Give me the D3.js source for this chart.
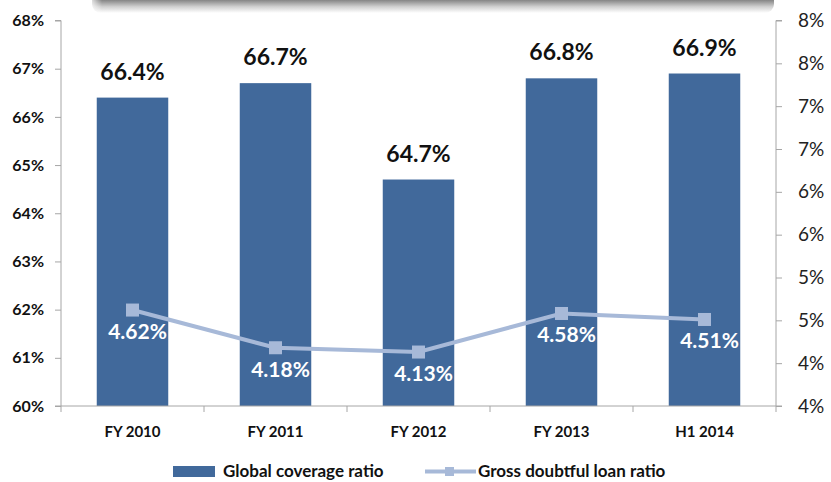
<!DOCTYPE html>
<html>
<head>
<meta charset="utf-8">
<script src="https://cdn.jsdelivr.net/npm/d3@7"></script>
<style>
  html, body { margin: 0; padding: 0; background: #fff; }
  svg { display: block; }
</style>
</head>
<body>
<svg id="chart" width="831" height="482"></svg>
<script>
// Periods on the category axis
const periods = ["FY 2010", "FY 2011", "FY 2012", "FY 2013", "H1 2014"];
// Global coverage ratio (%), bars on the left axis
const coverage = [66.4, 66.7, 64.7, 66.8, 66.9];
// Gross doubtful loan ratio (%), line on the right axis
const doubtful = [4.62, 4.18, 4.13, 4.58, 4.51];
// Axis tick values (%)
const leftTicks = [60, 61, 62, 63, 64, 65, 66, 67, 68];
const rightTicks = [3.5, 4, 4.5, 5, 5.5, 6, 6.5, 7, 7.5, 8];

const svg = d3.select("#chart");
const x0 = 61, x1 = 776, yTop = 20.5, yBot = 406;
const font = "Lato, 'Open Sans', sans-serif";
const barColor = "#41699b";
const lineColor = "#a7b9d8";
const axisColor = "#a6a6a6";

// Shaded header edge at the top
const defs = svg.append("defs");
const grad = defs.append("linearGradient").attr("id", "hdr")
  .attr("x1", 0).attr("y1", 0).attr("x2", 0).attr("y2", 1);
grad.append("stop").attr("offset", "0%").attr("stop-color", "#707070");
grad.append("stop").attr("offset", "48%").attr("stop-color", "#858585");
grad.append("stop").attr("offset", "75%").attr("stop-color", "#d0d0d0");
grad.append("stop").attr("offset", "100%").attr("stop-color", "#ffffff");
const hgrad = defs.append("linearGradient").attr("id", "hdrL")
  .attr("x1", 0).attr("y1", 0).attr("x2", 1).attr("y2", 0);
hgrad.append("stop").attr("offset", "0%").attr("stop-color", "#fff").attr("stop-opacity", 1);
hgrad.append("stop").attr("offset", "100%").attr("stop-color", "#fff").attr("stop-opacity", 0);
svg.append("rect").attr("x", 92).attr("y", -12).attr("width", 682).attr("height", 25)
  .attr("rx", 9).attr("fill", "url(#hdr)");
svg.append("rect").attr("x", 88).attr("y", -12).attr("width", 14).attr("height", 25)
  .attr("fill", "url(#hdrL)");

// Scales
const x = d3.scaleBand().domain(periods).range([x0, x1]).paddingInner(0.5).paddingOuter(0.25);
const xs = d3.scaleBand().domain(periods).range([x0, x1]);
const yL = d3.scaleLinear().domain([60, 68]).range([yBot, yTop]);
const yR = d3.scaleLinear().domain([3.5, 8]).range([yBot, yTop]);

// Bars
svg.append("g").selectAll("rect").data(periods).join("rect")
  .attr("x", d => x(d))
  .attr("width", x.bandwidth())
  .attr("y", (d, i) => yL(coverage[i]))
  .attr("height", (d, i) => yBot - yL(coverage[i]))
  .attr("fill", barColor);

// Bar value labels
svg.append("g").selectAll("text").data(periods).join("text")
  .attr("x", d => x(d) + x.bandwidth() / 2)
  .attr("y", (d, i) => yL(coverage[i]) - 18)
  .attr("text-anchor", "middle")
  .attr("font-family", font).attr("font-weight", 700).attr("font-size", 23)
  .attr("fill", "#111")
  .text((d, i) => coverage[i].toFixed(1) + "%");

// Left axis
const axL = svg.append("g").attr("transform", `translate(${x0},0)`)
  .call(d3.axisLeft(yL).tickValues(leftTicks).tickSize(6).tickPadding(11)
    .tickFormat(d => d + "%"));
axL.select(".domain").attr("stroke", axisColor).attr("d", `M-6,${yTop}H0V${yBot}H-6`);
axL.selectAll(".tick line").attr("stroke", axisColor);
axL.selectAll("text").attr("font-family", font).attr("font-weight", 700)
  .attr("font-size", 16).attr("fill", "#111");

// Right axis
const axR = svg.append("g").attr("transform", `translate(${x1},0)`)
  .call(d3.axisRight(yR).tickValues(rightTicks).tickSize(6).tickPadding(16)
    .tickFormat(d => Math.round(d) + "%"));
axR.select(".domain").attr("stroke", axisColor).attr("d", `M6,${yTop}H0V${yBot}H6`);
axR.selectAll(".tick line").attr("stroke", axisColor);
axR.selectAll("text").attr("font-family", font).attr("font-weight", 400)
  .attr("font-size", 19).attr("fill", "#222");

// Category axis
const axB = svg.append("g").attr("transform", `translate(0,${yBot})`);
axB.append("line").attr("x1", x0).attr("x2", x1).attr("stroke", axisColor);
const bounds = periods.map(d => xs(d)).concat([x1]);
axB.selectAll("line.t").data(bounds).join("line").attr("class", "t")
  .attr("x1", d => d).attr("x2", d => d).attr("y1", 0).attr("y2", 6)
  .attr("stroke", axisColor);
axB.selectAll("text").data(periods).join("text")
  .attr("x", d => xs(d) + xs.bandwidth() / 2)
  .attr("y", 31)
  .attr("text-anchor", "middle")
  .attr("font-family", font).attr("font-weight", 700).attr("font-size", 15)
  .attr("fill", "#111")
  .text(d => d);

// Doubtful loan ratio line
const cx = d => xs(d) + xs.bandwidth() / 2;
const line = d3.line().x(d => cx(d)).y((d, i) => yR(doubtful[i]));
svg.append("path").datum(periods)
  .attr("d", line)
  .attr("fill", "none").attr("stroke", lineColor).attr("stroke-width", 4);
svg.append("g").selectAll("rect").data(periods).join("rect")
  .attr("x", d => cx(d) - 6.5)
  .attr("y", (d, i) => yR(doubtful[i]) - 6.5)
  .attr("width", 13).attr("height", 13)
  .attr("fill", lineColor);
svg.append("g").selectAll("text").data(periods).join("text")
  .attr("x", d => cx(d) + 5)
  .attr("y", (d, i) => yR(doubtful[i]) + 29)
  .attr("text-anchor", "middle")
  .attr("font-family", font).attr("font-weight", 700).attr("font-size", 21)
  .attr("fill", "#fff")
  .text((d, i) => doubtful[i].toFixed(2) + "%");

// Legend
const lg = svg.append("g");
lg.append("rect").attr("x", 173).attr("y", 466).attr("width", 42).attr("height", 11)
  .attr("fill", barColor);
lg.append("text").attr("x", 223).attr("y", 477)
  .attr("font-family", font).attr("font-weight", 700).attr("font-size", 17)
  .attr("fill", "#111").text("Global coverage ratio");
lg.append("line").attr("x1", 425).attr("x2", 476).attr("y1", 471.5).attr("y2", 471.5)
  .attr("stroke", lineColor).attr("stroke-width", 4);
lg.append("rect").attr("x", 445).attr("y", 467).attr("width", 9).attr("height", 9)
  .attr("fill", lineColor);
lg.append("text").attr("x", 478).attr("y", 477)
  .attr("font-family", font).attr("font-weight", 700).attr("font-size", 17)
  .attr("fill", "#111").text("Gross doubtful loan ratio");
</script>
</body>
</html>
